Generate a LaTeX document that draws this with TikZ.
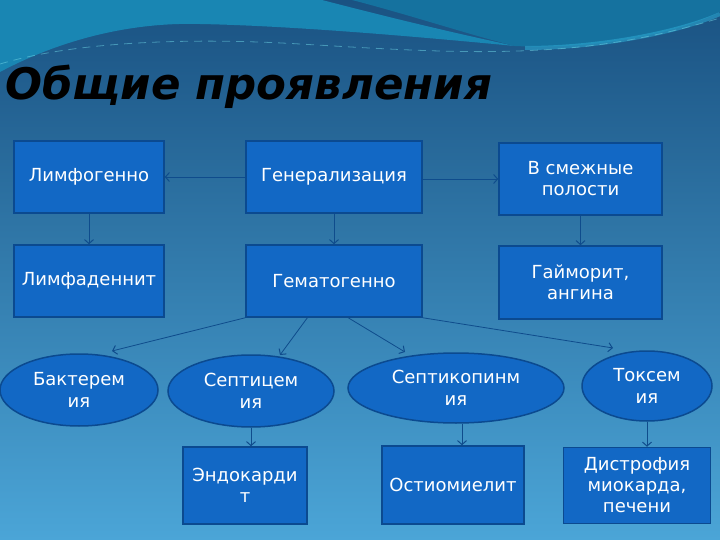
\documentclass[tikz,border=0pt]{standalone}
\usepackage{fontspec}
\setmainfont{DejaVu Sans}
\usetikzlibrary{arrows.meta,shapes.geometric,calc}
\definecolor{bgtop}{HTML}{1A5282}
\definecolor{bgmid}{HTML}{2C7BB0}
\definecolor{bgbot}{HTML}{4BA5D7}
\definecolor{tealA}{HTML}{1986B3}
\definecolor{tealB}{HTML}{15729F}
\definecolor{glow}{HTML}{2BA6D0}
\definecolor{sparkle}{HTML}{6FD6E6}
\definecolor{boxfill}{HTML}{1268C5}
\definecolor{boxline}{HTML}{0B4A90}
\definecolor{arrowc}{HTML}{0F4C8C}
\begin{document}
\begin{tikzpicture}[x=1pt,y=-1pt,
  box/.style={draw=boxline, fill=boxfill, line width=1.5pt, text=white, align=center,
    inner sep=0pt, font=\fontsize{18}{21}\selectfont},
  oval/.style={ellipse, draw=boxline, fill=boxfill, line width=1.5pt, text=white, align=center,
    inner sep=0pt, font=\fontsize{18}{22}\selectfont},
  conn/.style={draw=arrowc, line width=0.8pt, -{Straight Barb[length=4pt,width=9pt,line width=1pt]}}
]
\useasboundingbox (0,0) rectangle (720,540);
% background
\shade[top color=bgtop, middle color=bgmid, bottom color=bgbot] (0,0) rectangle (720,540);
\fill[tealA] (0,0) -- (0,72) .. controls (60,40) and (130,22) .. (200,24)
  .. controls (300,26) and (430,38) .. (515,46)
  .. controls (440,30) and (380,15) .. (322,0) -- cycle;
\fill[tealB] (352,0) .. controls (410,15) and (470,35) .. (515,46)
  .. controls (600,50) and (680,32) .. (720,12) -- (720,0) -- cycle;
\draw[glow, line width=4pt, opacity=0.6] (525,48) .. controls (600,48) and (680,32) .. (720,14);
\draw[sparkle, line width=0.8pt, opacity=0.5, dash pattern=on 8pt off 6pt]
  (0,64) .. controls (80,40) and (200,38) .. (300,44) .. controls (400,50) and (470,54) .. (540,50)
  .. controls (620,46) and (680,30) .. (720,18);
% title
\node[anchor=base west, inner sep=0pt, text=black,
  font=\fontsize{43.5}{44}\selectfont\bfseries\itshape] (title) at (5,100) {Общие проявления};
% boxes
\node[box, minimum width=150pt, minimum height=72pt] (lymf) at (89,177) {Лимфогенно};
\node[box, minimum width=176pt, minimum height=72pt] (gen) at (334,177) {Генерализация};
\node[box, minimum width=163pt, minimum height=72pt] (adj) at (580.5,179) {В смежные\\полости};
\node[box, minimum width=150pt, minimum height=72pt] (lad) at (89,281) {Лимфаденнит};
\node[box, minimum width=176pt, minimum height=72pt] (hem) at (334,281) {Гематогенно};
\node[box, minimum width=163pt, minimum height=73pt] (gai) at (580.5,282.5) {Гайморит,\\ангина};
% ellipses
\node[oval, minimum width=158pt, minimum height=72pt] (bact) at (79,390) {Бактерем\\ия};
\node[oval, minimum width=166pt, minimum height=72pt] (sept) at (251,391) {Септицем\\ия};
\node[oval, minimum width=216pt, minimum height=70pt] (septp) at (456,388) {Септикопинм\\ия};
\node[oval, minimum width=130pt, minimum height=70pt] (tox) at (647,386) {Токсем\\ия};
% bottom boxes
\node[box, minimum width=124pt, minimum height=77pt] (endo) at (245,485.5) {Эндокарди\\т};
\node[box, minimum width=142pt, minimum height=78pt] (osteo) at (453,485) {Остиомиелит};
\node[box, minimum width=147pt, minimum height=76pt] (dys) at (637,485.5) {Дистрофия\\миокарда,\\печени};
% free ends
\coordinate (t1) at (112,351);
\coordinate (t2) at (280,355);
\coordinate (t3) at (405,352);
\coordinate (t4) at (613,348);
% connectors
\draw[conn] (gen.west) -- (lymf.east);
\draw[conn] (gen.east |- adj.west) -- (adj.west);
\draw[conn] (lymf.south) -- (lad.north);
\draw[conn] (gen.south) -- (hem.north);
\draw[conn] (adj.south) -- (gai.north);
\draw[conn] (hem.south west) -- (t1);
\draw[conn] ($(hem.south west)!0.35!(hem.south east)$) -- (t2);
\draw[conn] ($(hem.south west)!0.58!(hem.south east)$) -- (t3);
\draw[conn] (hem.south east) -- (t4);
\draw[conn] (sept.south) -- (sept.south |- endo.north);
\draw[conn] ([xshift=6pt]septp.south) -- ([xshift=6pt]septp.south |- osteo.north);
\draw[conn] (tox.south) -- (tox.south |- dys.north);
\end{tikzpicture}
\end{document}
